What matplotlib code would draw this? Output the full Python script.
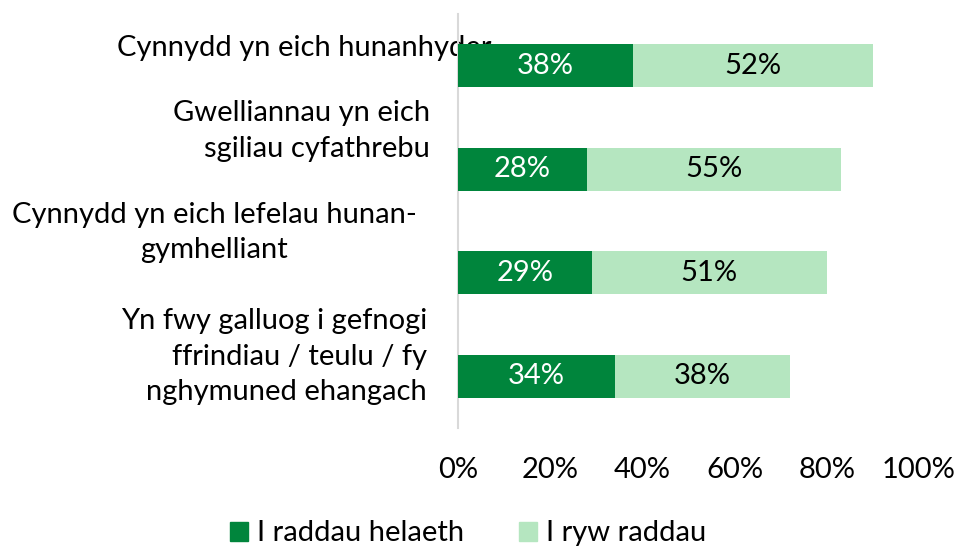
import matplotlib

matplotlib.use("Agg")
import matplotlib.pyplot as plt
import matplotlib.transforms as mtransforms
from matplotlib.patches import Patch

plt.rcParams["font.family"] = ["Lato", "DejaVu Sans"]

# data
categories = [
    "Cynnydd yn eich hunanhyder",
    "Gwelliannau yn eich\nsgiliau cyfathrebu",
    "Cynnydd yn eich lefelau hunan-\ngymhelliant",
    "Yn fwy galluog i gefnogi\nffrindiau / teulu / fy\nnghymuned ehangach",
]
large_extent = [38, 28, 29, 34]   # I raddau helaeth
some_extent = [52, 55, 51, 38]    # I ryw raddau
series_names = ["I raddau helaeth", "I ryw raddau"]
xticks = [0, 20, 40, 60, 80, 100]

DARK = "#00853c"
LIGHT = "#b5e6c0"
FS = 21

# label layout (figure-x in px, upward shift in category units, anchor, alignment)
label_x = [117, 430, 12, 427]
label_shift = [0.17, 0.37, 0.39, 0.19]
label_ha = ["left", "right", "left", "right"]
label_ma = ["left", "right", "center", "right"]

fig = plt.figure(figsize=(9.55, 5.47), dpi=100)
ax = fig.add_axes([458 / 955, 1 - 428 / 547, (919 - 458) / 955, (428 - 14) / 547])

ys = list(range(len(categories)))
ax.barh(ys, large_extent, height=0.42, color=DARK, zorder=3)
ax.barh(ys, some_extent, left=large_extent, height=0.42, color=LIGHT, zorder=3)

for y, a, b in zip(ys, large_extent, some_extent):
    ax.text(a / 2, y, f"{a}%", ha="center", va="center", color="white", fontsize=FS, zorder=4)
    ax.text(a + b / 2, y, f"{b}%", ha="center", va="center", color="black", fontsize=FS, zorder=4)

ax.set_xlim(0, 100)
ax.set_ylim(len(categories) - 0.5, -0.5)
ax.set_xticks(xticks)
ax.set_xticklabels([f"{t}%" for t in xticks], fontsize=FS)
ax.set_yticks([])
ax.tick_params(axis="x", length=0, pad=21)
for s in ["top", "right", "bottom"]:
    ax.spines[s].set_visible(False)
ax.spines["left"].set_color("#d9d9d9")
ax.spines["left"].set_linewidth(1.5)
ax.spines["left"].set_zorder(2)

trans = mtransforms.blended_transform_factory(fig.transFigure, ax.transData)
for y, lab, lx, sh, ha, ma in zip(ys, categories, label_x, label_shift, label_ha, label_ma):
    ax.text(lx / 955, y - sh, lab, transform=trans, ha=ha, va="center", multialignment=ma,
            fontsize=FS, linespacing=1.46, zorder=1, clip_on=False)

fig.legend(handles=[Patch(color=DARK, label=series_names[0]),
                    Patch(color=LIGHT, label=series_names[1])],
           loc="lower center", bbox_to_anchor=(0.49, -0.047), ncol=2, frameon=False,
           fontsize=FS, handlelength=0.62, handleheight=0.62, handletextpad=0.3,
           columnspacing=1.9)

fig.savefig("out.png", dpi=100)
